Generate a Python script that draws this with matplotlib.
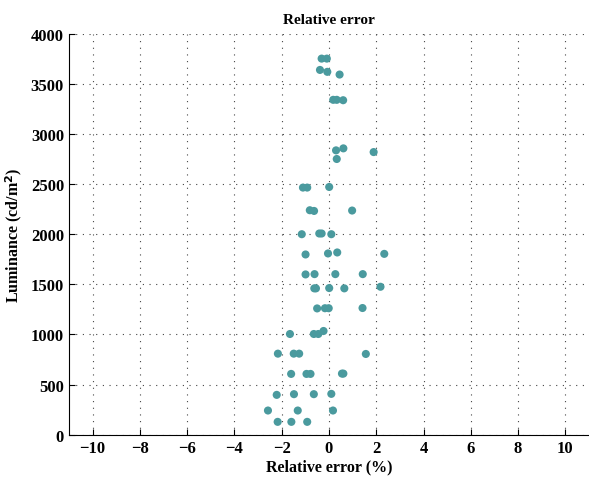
import matplotlib.pyplot as plt

# relative error (%) and luminance (cd/m^2)
rel_error = [
    -0.31, -0.09, -0.38, -0.07, 0.45,
    0.18, 0.33, 0.60,
    0.30, 0.61, 1.89, 0.33,
    -1.10, -0.92, 0.01,
    -0.81, -0.63, 0.98,
    -1.15, -0.41, -0.31, 0.10,
    -0.99, -0.04, 0.35, 2.34,
    -0.99, -0.61, 0.27, 1.43,
    -0.62, -0.55, 0.01, 0.65, 2.18,
    -0.50, -0.17, -0.01, 1.42,
    -1.65, -0.64, -0.45, -0.23,
    -2.16, -1.49, -1.26, 1.56,
    -1.60, -0.95, -0.78, 0.55, 0.61,
    -2.21, -1.48, -0.64, 0.10,
    -2.58, -1.32, 0.17,
    -2.17, -1.59, -0.92,
]
luminance = [
    3751, 3751, 3638, 3619, 3592,
    3340, 3340, 3336,
    2836, 2856, 2819, 2750,
    2465, 2465, 2471,
    2239, 2232, 2236,
    2000, 2007, 2007, 2000,
    1798, 1808, 1818, 1804,
    1599, 1602, 1602, 1602,
    1460, 1460, 1463, 1460, 1476,
    1260, 1262, 1262, 1264,
    1005, 1005, 1005, 1035,
    809, 809, 809, 806,
    607, 607, 607, 610, 610,
    398, 405, 405, 408,
    242, 242, 242,
    129, 129, 129,
]

plt.rcParams['font.family'] = ['Liberation Serif', 'DejaVu Serif']
plt.rcParams['mathtext.fontset'] = 'custom'
plt.rcParams['mathtext.rm'] = 'Liberation Serif:bold'
plt.rcParams['mathtext.it'] = 'Liberation Serif:bold'

fig = plt.figure(figsize=(5.89, 4.81), dpi=100)
ax = fig.add_axes([0.117, 0.094, 0.883, 0.834])

ax.scatter(rel_error, luminance, s=34, color='#4a9a9e', edgecolors='none', zorder=3)

ax.set_xlim(-11, 11)
ax.set_ylim(0, 4000)
ax.set_xticks(range(-10, 11, 2))
ax.set_yticks(range(0, 4001, 500))
ax.set_xticklabels([f'\u2212{-v}' if v < 0 else str(v) for v in range(-10, 11, 2)])

ax.grid(True, linestyle=(0, (1, 5)), color='#444444', linewidth=0.8)
for s in ['top', 'right']:
    ax.spines[s].set_visible(False)
ax.tick_params(direction='in', length=4, labelsize=12)
for lab in ax.get_xticklabels() + ax.get_yticklabels():
    lab.set_fontweight('bold')

ax.set_title('Relative error', fontsize=11, fontweight='bold', pad=8)
ax.set_xlabel('Relative error (%)', fontsize=11.5, fontweight='bold', labelpad=2)
ax.set_ylabel('Luminance (cd/m$^{\\mathbf{2}}$)', fontsize=11.5, fontweight='bold', labelpad=4)

plt.savefig('out.png', dpi=100)
plt.close()
